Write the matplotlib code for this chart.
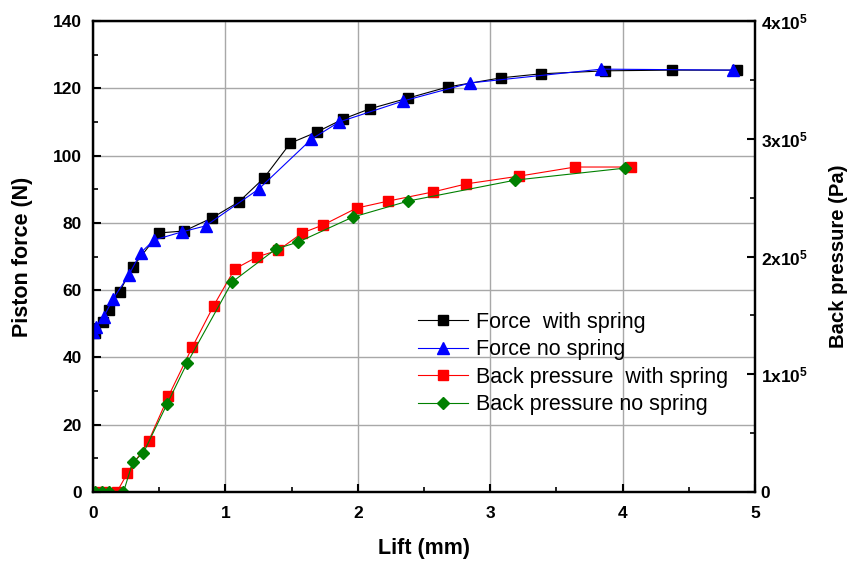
import matplotlib.pyplot as plt
from matplotlib.ticker import MultipleLocator, FixedLocator

plt.rcParams['font.family'] = 'Liberation Sans'
plt.rcParams['mathtext.fontset'] = 'custom'
plt.rcParams['mathtext.rm'] = 'Liberation Sans:bold'
plt.rcParams['mathtext.bf'] = 'Liberation Sans:bold'
plt.rcParams['mathtext.default'] = 'bf'

# Force with spring (lift mm, force N)
lift_fs = [0.015, 0.076, 0.12, 0.20, 0.30, 0.50, 0.69, 0.90, 1.10, 1.29, 1.49,
           1.69, 1.89, 2.09, 2.38, 2.68, 3.08, 3.38, 3.87, 4.37, 4.86]
force_fs = [47.3, 50.5, 54.1, 59.5, 66.9, 77.0, 77.6, 81.5, 86.2, 93.3, 103.7,
            107.0, 110.9, 113.9, 117.1, 120.4, 123.1, 124.3, 125.2, 125.4, 125.4]

# Force without spring
lift_fn = [0.0, 0.02, 0.08, 0.15, 0.27, 0.36, 0.46, 0.67, 0.85, 1.25, 1.65,
           1.86, 2.34, 2.85, 3.84, 4.83]
force_fn = [47.5, 49.0, 52.0, 57.3, 64.5, 71.1, 74.9, 77.3, 79.1, 90.0, 104.9,
            110.0, 116.2, 121.6, 125.7, 125.4]

# Back pressure with spring (Pa)
lift_ps = [0.03, 0.09, 0.18, 0.26, 0.42, 0.57, 0.75, 0.91, 1.07, 1.24, 1.40,
           1.58, 1.74, 1.99, 2.23, 2.57, 2.82, 3.22, 3.64, 4.06]
press_ps = [0, 0, 0, 0.16e5, 0.434e5, 0.814e5, 1.231e5, 1.58e5, 1.894e5, 1.997e5,
            2.054e5, 2.20e5, 2.269e5, 2.411e5, 2.471e5, 2.549e5, 2.617e5, 2.683e5,
            2.76e5, 2.76e5]

# Back pressure without spring (Pa)
lift_pn = [0.015, 0.07, 0.12, 0.23, 0.30, 0.38, 0.56, 0.71, 1.05, 1.38, 1.55,
           1.96, 2.38, 3.19, 4.02]
press_pn = [0, 0, 0, 0, 0.254e5, 0.331e5, 0.749e5, 1.094e5, 1.783e5, 2.063e5,
            2.123e5, 2.334e5, 2.471e5, 2.649e5, 2.751e5]

fig = plt.figure(figsize=(8.48, 5.68), dpi=100)
ax = fig.add_axes([0.1097, 0.1338, 0.7807, 0.8292])
ax2 = ax.twinx()

l1, = ax.plot(lift_fs, force_fs, color='black', lw=0.8, marker='s', ms=7,
              label='Force  with spring')
l2, = ax.plot(lift_fn, force_fn, color='blue', lw=0.8, marker='^', ms=8.5,
              label='Force no spring')
l3, = ax2.plot(lift_ps, press_ps, color='red', lw=0.8, marker='s', ms=7,
               label='Back pressure  with spring')
l4, = ax2.plot(lift_pn, press_pn, color='green', lw=0.8, marker='D', ms=6.5,
               label='Back pressure no spring')

ax.set_xlim(0, 5)
ax.set_ylim(0, 140)
ax2.set_ylim(0, 4e5)

ax.xaxis.set_major_locator(MultipleLocator(1))
ax.xaxis.set_minor_locator(MultipleLocator(0.5))
ax.yaxis.set_major_locator(MultipleLocator(20))
ax.yaxis.set_minor_locator(MultipleLocator(10))
ax2.yaxis.set_major_locator(FixedLocator([0, 1e5, 2e5, 3e5, 4e5]))
ax2.yaxis.set_minor_locator(MultipleLocator(0.5e5))
ax2.set_yticklabels(['0', '1x10$^5$', '2x10$^5$', '3x10$^5$', '4x10$^5$'])

ax.grid(True, which='major', color='#a8a8a8', lw=1)
ax.set_axisbelow(True)

for a in (ax, ax2):
    a.tick_params(which='major', direction='in', length=6, width=1.5, labelsize=12.5)
    a.tick_params(which='minor', direction='in', length=3.5, width=1.2)
    for s in a.spines.values():
        s.set_linewidth(1.6)
ax.tick_params(top=False, right=False, which='both')
ax.tick_params(axis='x', which='major', pad=10)
ax.tick_params(axis='y', which='major', pad=8)
ax2.tick_params(axis='y', which='major', pad=4)
for lab in ax.get_xticklabels() + ax.get_yticklabels() + ax2.get_yticklabels():
    lab.set_fontweight('bold')

ax.set_xlabel('Lift (mm)', fontsize=15.5, fontweight='bold', labelpad=12)
ax.set_ylabel('Piston force (N)', fontsize=15.5, fontweight='bold', labelpad=14)
ax2.set_ylabel('Back pressure (Pa)', fontsize=14.6, fontweight='bold', labelpad=15)

ax2.legend(handles=[l1, l2, l3, l4], loc='upper left', bbox_to_anchor=(0.475, 0.405),
           frameon=False, fontsize=15.5, handlelength=2.3, handletextpad=0.4,
           labelspacing=0.3, borderpad=0)

fig.savefig('out.png', dpi=100)
